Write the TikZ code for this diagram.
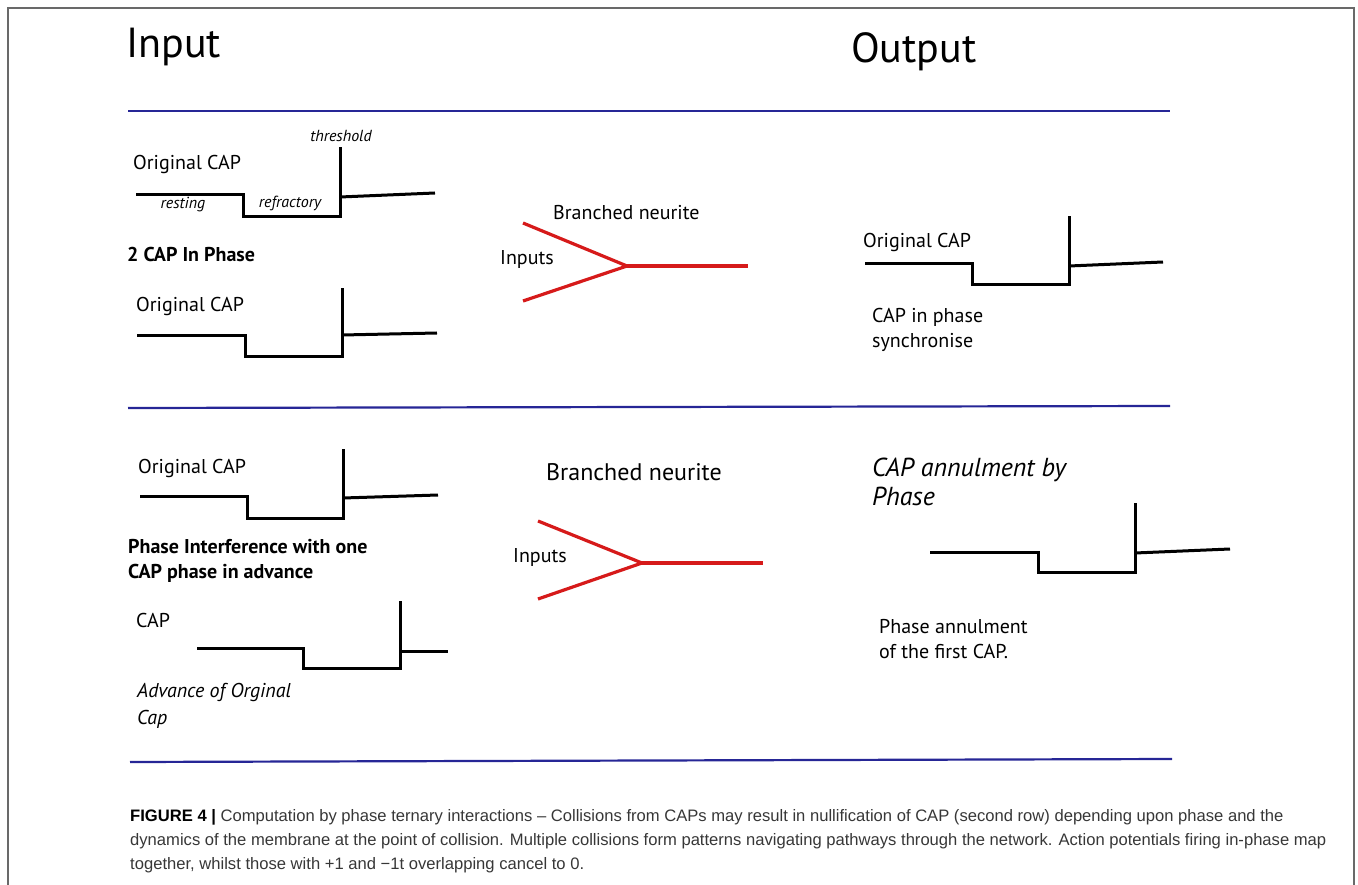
\documentclass[tikz,border=0pt]{standalone}
\usepackage{fontspec}
\setmainfont{PT Sans}
\newfontfamily\capfont{Liberation Sans}
\usetikzlibrary{positioning}
\definecolor{rulecol}{RGB}{38,38,150}
\definecolor{neuritecol}{RGB}{214,26,26}
\definecolor{framecol}{RGB}{105,105,105}
\definecolor{captioncol}{RGB}{55,55,55}
\tikzset{
	wave/.style={line width=3, line join=miter},
	neurite/.style={draw=neuritecol, line width=3.2},
	rowrule/.style={draw=rulecol, line width=2.2},
	lbl/.style={inner sep=0, anchor=west, align=left, font=\fontsize{20}{25}\selectfont},
	tag/.style={inner sep=0, font=\fontsize{16}{19}\selectfont\itshape},
	head/.style={inner sep=0, anchor=west, font=\fontsize{42}{48}\selectfont},
	caption/.style={inner sep=0, anchor=base west, text=captioncol, font=\capfont\fontsize{16.6}{24}\selectfont}
}
\begin{document}
\begin{tikzpicture}
		[x=1pt, y=-1pt]
		\useasboundingbox (0,0) rectangle (1358,885);
	
		% frame %
		\draw[framecol, line width=1.5] (8,885) -- (8,8) -- (1354,8) -- (1354,885);
	
		% headings and rules %
		\node[head] (in) at (126,47) {Input};
		\node[head] (out) at (851,52) {Output};
		\coordinate (r1a) at (128,111);  \coordinate (r1b) at (1170,111);
		\coordinate (r2a) at (128,408);  \coordinate (r2b) at (1170,406);
		\coordinate (r3a) at (130,762);  \coordinate (r3b) at (1172,759);
		\draw[rowrule] (r1a) -- (r1b);
		\draw[rowrule] (r2a) -- (r2b);
		\draw[rowrule] (r3a) -- (r3b);
	
		% row 1, input %
		\node[lbl] (cap1) at (133,165) {Original CAP};
		\node[tag] (thr) at (341,136) {threshold};
		\node[tag] (rest) at (183,205) {resting};
		\node[tag] (refr) at (290,203) {refractory};
		\draw[wave] (136,195) -- (243,195) -- (243,217) -- (340,217) -- (340,147);
		\draw[wave] (340,197) -- (435,193);
		\node[lbl, font=\fontsize{20}{25}\selectfont\bfseries] (inphase) at (127,255) {2 CAP In Phase};
		\node[lbl] (cap2) at (136,307) {Original CAP};
		\draw[wave] (137,336) -- (245,336) -- (245,357) -- (342,357) -- (342,288);
		\draw[wave] (342,335) -- (437,333);
	
		% row 1, neurite %
		\node[lbl] (branch1) at (553,213) {Branched neurite};
		\node[lbl] (inputs1) at (500,260) {Inputs};
		\coordinate (up1) at (523,223);
		\coordinate (lo1) at (523,301);
		\coordinate (join1) at (627,266);
		\coordinate (end1) at (748,266);
		\draw[neurite] (up1) -- (join1) -- (lo1);
		\draw[neurite] (join1) -- (end1);
	
		% row 1, output %
		\node[lbl] (cap3) at (863,243) {Original CAP};
		\draw[wave] (865,264) -- (972,264) -- (972,285) -- (1069,285) -- (1069,216);
		\draw[wave] (1069,266) -- (1163,262);
		\node[lbl] (sync) at (872,330) {CAP in phase\\synchronise};
	
		% row 2, input %
		\node[lbl] (cap4) at (138,468) {Original CAP};
		\draw[wave] (140,496) -- (247,496) -- (247,518) -- (343,518) -- (343,449);
		\draw[wave] (343,498) -- (438,495);
		\node[lbl, font=\fontsize{20}{25}\selectfont\bfseries] (interf) at (128,561) {Phase Interference with one\\CAP phase in advance};
		\node[lbl] (cap5) at (136,620) {CAP};
		\draw[wave] (197,648) -- (303,648) -- (303,668) -- (400,668) -- (400,601);
		\draw[wave] (400,651) -- (448,651);
		\node[lbl, font=\fontsize{20}{27}\selectfont\itshape] (adv) at (137,706) {Advance of Orginal\\Cap};
	
		% row 2, neurite %
		\node[lbl, font=\fontsize{24}{28}\selectfont] (branch2) at (546,472) {Branched neurite};
		\node[lbl] (inputs2) at (513,557) {Inputs};
		\coordinate (up2) at (538,521);
		\coordinate (lo2) at (538,599);
		\coordinate (join2) at (642,563);
		\coordinate (end2) at (763,563);
		\draw[neurite] (up2) -- (join2) -- (lo2);
		\draw[neurite] (join2) -- (end2);
	
		% row 2, output %
		\node[lbl, font=\fontsize{26}{29}\selectfont\itshape] (annul) at (872,482) {CAP annulment by\\Phase};
		\draw[wave] (930,552) -- (1038,552) -- (1038,572) -- (1135,572) -- (1135,503);
		\draw[wave] (1135,553) -- (1230,549);
		\node[lbl] (first) at (879,639) {Phase annulment\\of the first CAP.};
	
		% caption %
		\node[caption] (cap line1) at (130,821) {\textcolor{black}{\textbf{FIGURE 4 |}} Computation by phase ternary interactions – Collisions from CAPs may result in nullification of CAP (second row) depending upon phase and the};
		\node[caption] (cap line2) at (130,845) {dynamics of the membrane at the point of collision. Multiple collisions form patterns navigating pathways through the network. Action potentials firing in-phase map};
		\node[caption] (cap line3) at (130,869) {together, whilst those with +1 and −1t overlapping cancel to 0.};
	
		\end{tikzpicture}
\end{document}
